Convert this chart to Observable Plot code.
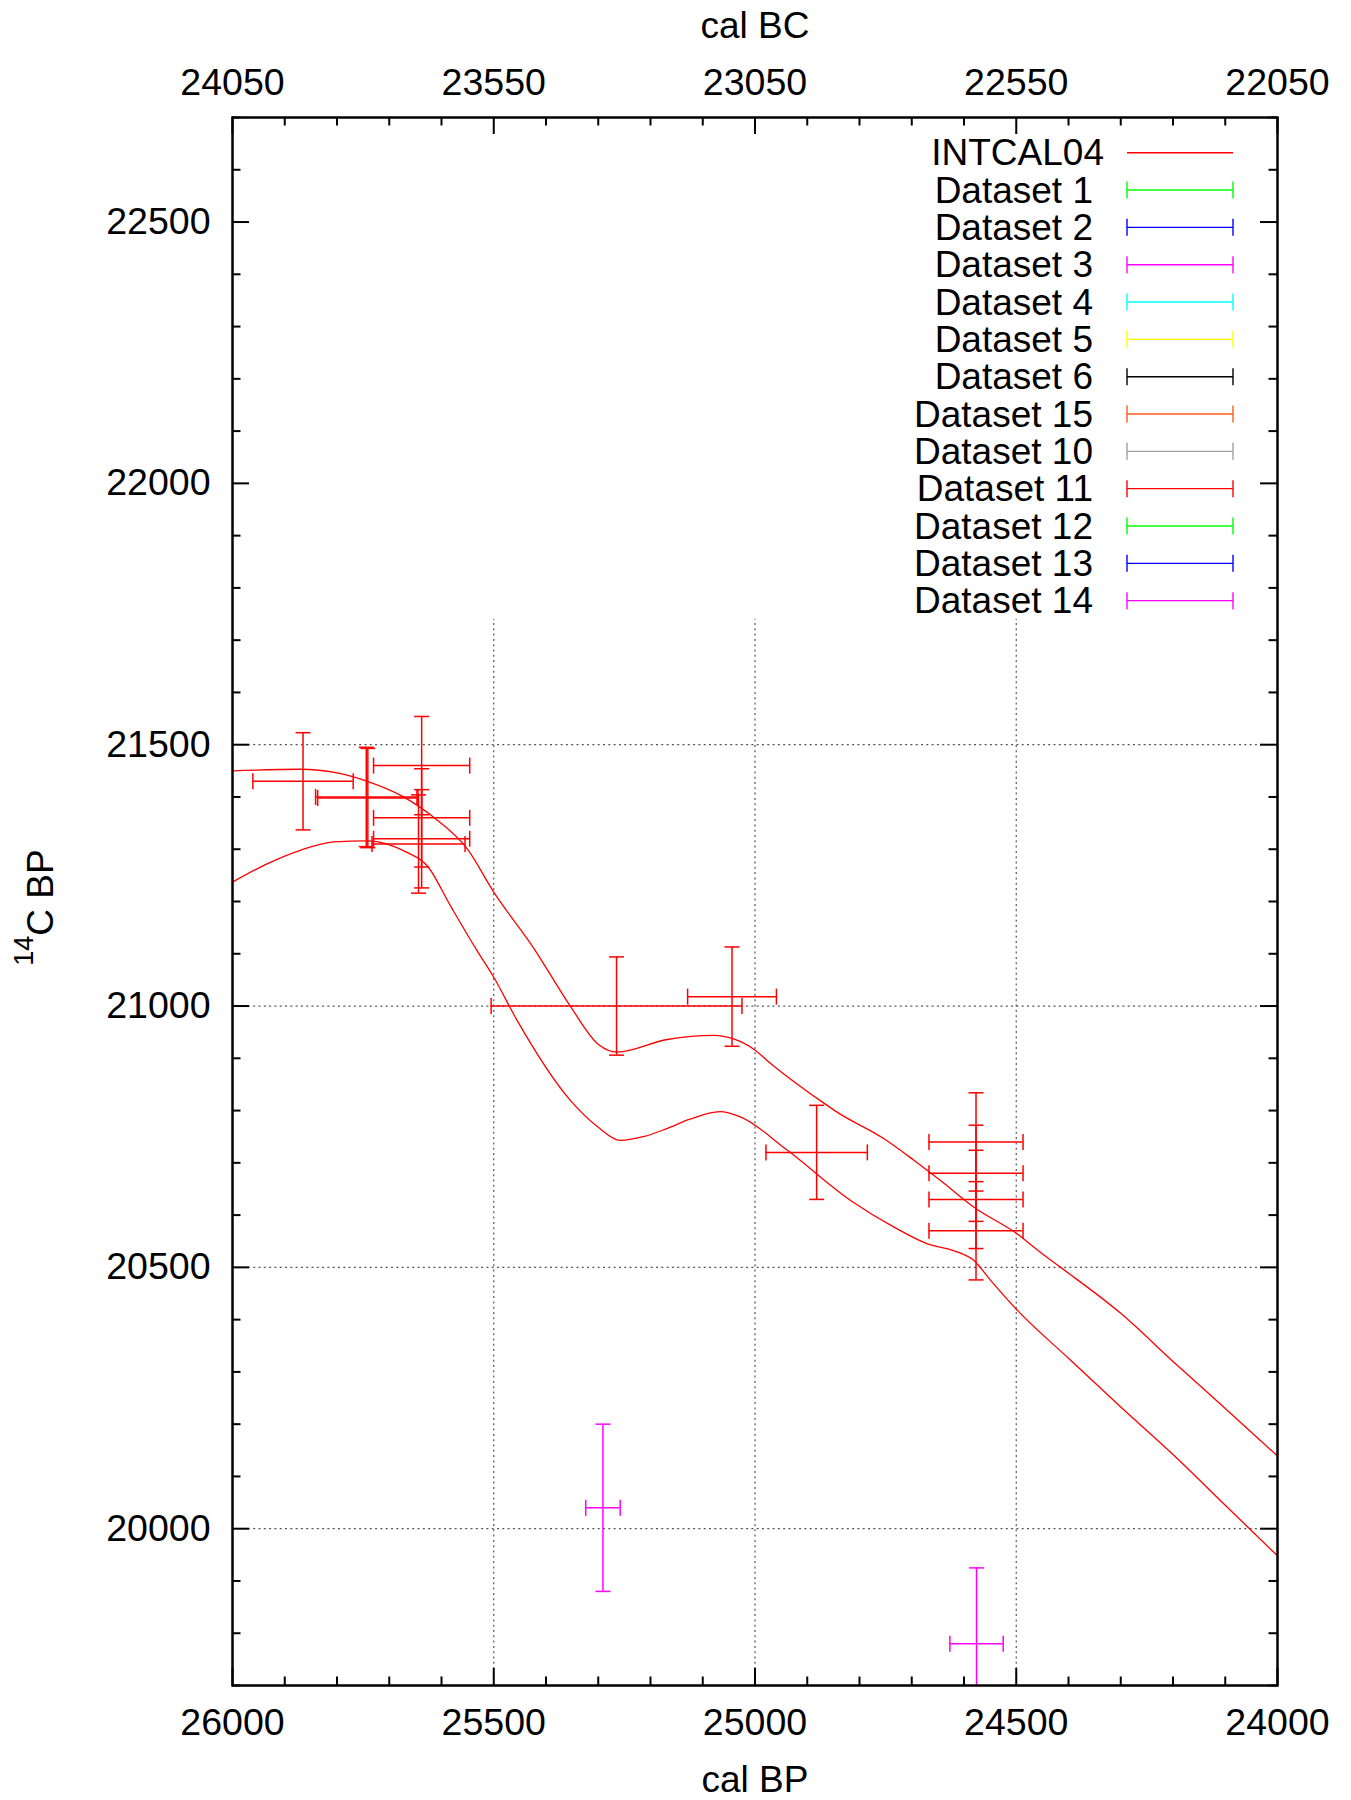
<!DOCTYPE html>
<html>
<head>
<meta charset="utf-8">
<script src="https://cdn.jsdelivr.net/npm/d3@7"></script>
<script src="https://cdn.jsdelivr.net/npm/@observablehq/plot@0.6"></script>
<style>
  body { margin: 0; background: #fff; }
  #chart { width: 1351px; height: 1800px; }
</style>
</head>
<body>
<div id="chart"></div>
<script>
// ---------------- DATA ----------------
// INTCAL04 upper envelope (cal BP, 14C BP)
const upperCalBP = [26000, 25870, 25800, 25742, 25678, 25615, 25551, 25500, 25423, 25353, 25299, 25264, 25168, 25079, 25041, 24999, 24977, 24875, 24843, 24753, 24696, 24645, 24581, 24498, 24454, 24415, 24300, 24200, 24100, 24000];
const upperC14   = [21450, 21453, 21446, 21430, 21403, 21361, 21301, 21218, 21110, 20999, 20926, 20912, 20936, 20944, 20937, 20915, 20896, 20819, 20797, 20746, 20705, 20666, 20615, 20564, 20529, 20500, 20412, 20320, 20230, 20139];
// INTCAL04 lower envelope
const lowerCalBP = [26000, 25934, 25870, 25806, 25742, 25704, 25666, 25627, 25583, 25532, 25500, 25455, 25353, 25300, 25258, 25214, 25170, 25126, 25067, 25028, 24938, 24817, 24734, 24670, 24620, 24581, 24549, 24500, 24400, 24300, 24200, 24100, 24000];
const lowerC14   = [21237, 21272, 21298, 21314, 21316, 21310, 21294, 21268, 21192, 21106, 21055, 20972, 20819, 20768, 20743, 20750, 20765, 20783, 20798, 20788, 20724, 20628, 20577, 20545, 20532, 20513, 20475, 20420, 20326, 20233, 20142, 20045, 19948];

// Dataset 11 (red crosses)
const ds11CalBP    = [25865, 25744, 25741, 25638, 25638, 25638, 25644, 25265, 25044, 24882, 24577, 24577, 24577, 24577];
const ds11CalBPErr = [96, 97, 96, 92, 92, 92, 89, 240, 85, 97, 90, 90, 90, 90];
const ds11C14      = [21430, 21400, 21398, 21460, 21360, 21320, 21310, 21000, 21018, 20720, 20740, 20680, 20630, 20570];
const ds11C14Err   = [93, 95, 95, 94, 94, 94, 94, 94, 95, 90, 94, 92, 94, 94];

// Dataset 14 (magenta crosses)
const ds14CalBP    = [25291, 24576];
const ds14CalBPErr = [33, 51];
const ds14C14      = [20040, 19780];
const ds14C14Err   = [160, 145];

// Axes / ticks
const xDomain = [26000, 24000];
const yDomain = [19700, 22700];
const xMajorTicks = [26000, 25500, 25000, 24500, 24000];
const yMajorTicks = [20000, 20500, 21000, 21500, 22000, 22500];
const xGrid = [25500, 25000, 24500];
const yGrid = [20000, 20500, 21000, 21500];
const xGridTop = 21740;
const calBCOffset = 1950;
const xMinorTicks = d3.range(24000, 26001, 100).filter(v => v % 500 !== 0);
const yMinorTicks = d3.range(19700, 22701, 100).filter(v => v % 500 !== 0);

// Legend
const legendLabels = ["INTCAL04", "Dataset 1", "Dataset 2", "Dataset 3", "Dataset 4", "Dataset 5", "Dataset 6", "Dataset 15", "Dataset 10", "Dataset 11", "Dataset 12", "Dataset 13", "Dataset 14"];
const legendColors = ["#ff0000", "#00ff00", "#0000ff", "#ff00ff", "#00ffff", "#ffff00", "#000000", "#ff5a1a", "#a0a0a0", "#ff0000", "#00ff00", "#0000ff", "#ff00ff"];

// ---------------- BUILD ----------------
const upper = upperCalBP.map((x, i) => ({x, y: upperC14[i]}));
const lower = lowerCalBP.map((x, i) => ({x, y: lowerC14[i]}));
const ds11 = ds11CalBP.map((x, i) => ({x, xe: ds11CalBPErr[i], y: ds11C14[i], ye: ds11C14Err[i]}));
const ds14 = ds14CalBP.map((x, i) => ({x, xe: ds14CalBPErr[i], y: ds14C14[i], ye: ds14C14Err[i]}));

const W = 1351, H = 1800;
const mL = 232, mR = 74, mT = 117, mB = 115;
const plotW = W - mL - mR, plotH = H - mT - mB;
const FONT = "'Liberation Sans', Arial, Helvetica, sans-serif";
const TICKFONT = 37.5;

const capH = {draw(ctx, size) { const w = Math.sqrt(size / Math.PI); ctx.moveTo(-w, 0); ctx.lineTo(w, 0); }};
const capV = {draw(ctx, size) { const w = Math.sqrt(size / Math.PI); ctx.moveTo(0, -w); ctx.lineTo(0, w); }};

function errorMarks(data, color, clip) {
  const sw = 1.5;
  return [
    Plot.ruleX(data, {x: "x", y1: d => d.y - d.ye, y2: d => d.y + d.ye, stroke: color, strokeWidth: sw, clip}),
    Plot.ruleY(data, {y: "y", x1: d => d.x - d.xe, x2: d => d.x + d.xe, stroke: color, strokeWidth: sw, clip}),
    Plot.dot(data, {x: "x", y: d => d.y + d.ye, symbol: capH, r: 7.5, stroke: color, fill: "none", strokeWidth: sw, clip}),
    Plot.dot(data, {x: "x", y: d => d.y - d.ye, symbol: capH, r: 7.5, stroke: color, fill: "none", strokeWidth: sw, clip}),
    Plot.dot(data, {x: d => d.x - d.xe, y: "y", symbol: capV, r: 8, stroke: color, fill: "none", strokeWidth: sw, clip}),
    Plot.dot(data, {x: d => d.x + d.xe, y: "y", symbol: capV, r: 8, stroke: color, fill: "none", strokeWidth: sw, clip})
  ];
}

const gridStyle = {stroke: "#555", strokeWidth: 1.2, strokeDasharray: "2,3.3"};
const tickStyle = {stroke: "#000", strokeWidth: 2};

const chart = Plot.plot({
  width: W, height: H,
  marginLeft: mL, marginRight: mR, marginTop: mT, marginBottom: mB,
  x: {domain: xDomain, axis: null},
  y: {domain: yDomain, axis: null},
  style: {fontFamily: FONT, background: "white", overflow: "visible"},
  marks: [
    // grid
    Plot.ruleY(yGrid, {y: d => d, ...gridStyle}),
    Plot.ruleX(xGrid, {x: d => d, y1: yDomain[0], y2: xGridTop, ...gridStyle}),
    // curves
    Plot.line(upper, {x: "x", y: "y", stroke: "#ff0000", strokeWidth: 1.3, curve: "monotone-x", clip: true}),
    Plot.line(lower, {x: "x", y: "y", stroke: "#ff0000", strokeWidth: 1.3, curve: "monotone-x", clip: true}),
    // data
    ...errorMarks(ds11, "#ff0000", true),
    ...errorMarks(ds14, "#ff00ff", true),
    // ticks (inward, mirrored)
    Plot.ruleX(xMajorTicks, {x: d => d, insetTop: plotH - 17, ...tickStyle}),
    Plot.ruleX(xMinorTicks, {x: d => d, insetTop: plotH - 8.5, ...tickStyle}),
    Plot.ruleX(xMajorTicks, {x: d => d, insetBottom: plotH - 17, ...tickStyle}),
    Plot.ruleX(xMinorTicks, {x: d => d, insetBottom: plotH - 8.5, ...tickStyle}),
    Plot.ruleY(yMajorTicks, {y: d => d, insetRight: plotW - 17, ...tickStyle}),
    Plot.ruleY(yMinorTicks, {y: d => d, insetRight: plotW - 8.5, ...tickStyle}),
    Plot.ruleY(yMajorTicks, {y: d => d, insetLeft: plotW - 17, ...tickStyle}),
    Plot.ruleY(yMinorTicks, {y: d => d, insetLeft: plotW - 8.5, ...tickStyle}),
    Plot.frame({stroke: "#000", strokeWidth: 2.5}),
    // tick labels
    Plot.text(xMajorTicks, {x: d => d, frameAnchor: "bottom", dy: 23, lineAnchor: "top", text: d => String(d), fontSize: TICKFONT, fill: "#000"}),
    Plot.text(xMajorTicks, {x: d => d, frameAnchor: "top", dy: -22.5, lineAnchor: "bottom", text: d => String(d - calBCOffset), fontSize: TICKFONT, fill: "#000"}),
    Plot.text(yMajorTicks, {y: d => d, frameAnchor: "left", dx: -22, textAnchor: "end", lineAnchor: "middle", text: d => String(d), fontSize: TICKFONT, fill: "#000"}),
    // axis titles
    Plot.text(["cal BC"], {frameAnchor: "top", dy: -80, lineAnchor: "bottom", text: d => d, fontSize: 37, fill: "#000"}),
    Plot.text(["cal BP"], {frameAnchor: "bottom", dy: 106, lineAnchor: "bottom", text: d => d, fontSize: 37, fill: "#000"}),
    Plot.text(["14C BP"], {frameAnchor: "left", dx: -180, dy: 6, rotate: -90, textAnchor: "middle", lineAnchor: "bottom", text: d => d, fontSize: 37, fill: "#000"})
  ]
});

document.getElementById("chart").appendChild(chart);

// superscript on the y title
const svg = d3.select(chart.tagName.toLowerCase() === "svg" ? chart : chart.querySelector("svg"));
svg.selectAll("text").each(function () {
  if (this.textContent === "14C BP") {
    const t = d3.select(this);
    t.text(null);
    t.append("tspan").attr("font-size", 27).attr("dy", -20).text("14");
    t.append("tspan").attr("dy", 20).text("C BP");
  }
});

// legend (gnuplot style key)
const key = svg.append("g").attr("font-family", FONT).attr("font-size", 37);
const rowY0 = 152.7, rowStep = 37.33, textRight = 1104, spaceW = 11, sx1 = 1127, sx2 = 1233, capR = 8.5;
legendLabels.forEach((lab, i) => {
  const cy = rowY0 + i * rowStep;
  const col = legendColors[i];
  key.append("text")
    .attr("x", textRight - (i === 0 ? 0 : spaceW))
    .attr("y", cy + 12.7)
    .attr("text-anchor", "end")
    .attr("fill", "#000")
    .text(lab);
  key.append("line").attr("x1", sx1).attr("x2", sx2).attr("y1", cy).attr("y2", cy)
    .attr("stroke", col).attr("stroke-width", 1.4);
  if (i > 0) {
    [sx1, sx2].forEach(x => key.append("line").attr("x1", x).attr("x2", x)
      .attr("y1", cy - capR).attr("y2", cy + capR).attr("stroke", col).attr("stroke-width", 1.4));
  }
});
</script>
</body>
</html>
